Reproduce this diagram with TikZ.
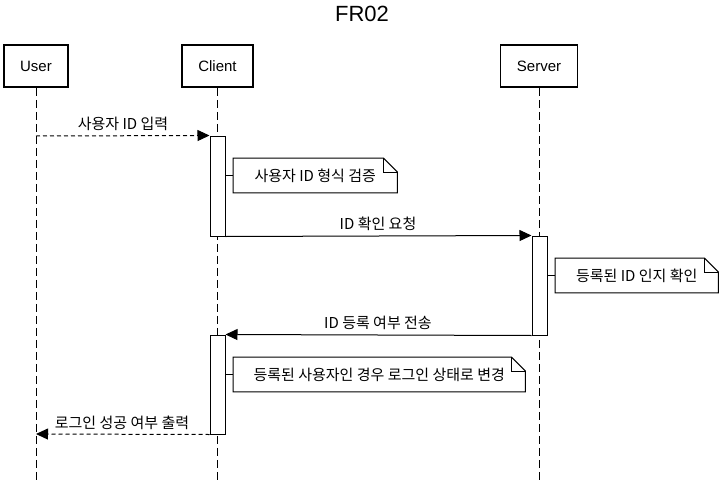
\documentclass[tikz,border=0pt]{standalone}
\usepackage{fontspec}
\setmainfont{Liberation Sans}
\newfontfamily\cjk{Noto Sans CJK KR}
\usetikzlibrary{arrows.meta}
\begin{document}
\begin{tikzpicture}[x=1pt,y=-1pt,
  actor/.style={draw, line width=1.8pt, minimum height=42pt, inner sep=0pt, font=\fontsize{15}{17}\selectfont},
  actbar/.style={draw, fill=white, line width=1pt, minimum width=15pt, inner sep=0pt},
  lifeline/.style={line width=1pt, dash pattern=on 8pt off 4pt},
  msg/.style={line width=1pt, -{Triangle[length=12pt,width=11pt]}},
  reply/.style={msg, dash pattern=on 4pt off 3pt},
  notebox/.style={minimum height=34.5pt, inner sep=0pt, anchor=west, font=\fontsize{15}{17}\selectfont\cjk},
  notedraw/.style={line width=1pt},
  lbl/.style={font=\fontsize{15}{17}\selectfont\cjk, inner sep=0pt}
]
\useasboundingbox (0,0) rectangle (724,482);

\node[font=\fontsize{22}{24}\selectfont, inner sep=0pt] (title) at (362,14) {FR02};

\node[actor, minimum width=64pt] (user) at (36,66) {User};
\node[actor, minimum width=71pt] (client) at (217.5,66) {Client};
\node[actor, minimum width=77pt] (server) at (539,66) {Server};

\coordinate (userend) at (36,482);
\coordinate (clientend) at (217.5,482);
\coordinate (serverend) at (539,482);
\draw[lifeline] (user.south) -- (userend);
\draw[lifeline] (client.south) -- (clientend);
\draw[lifeline] (server.south) -- (serverend);

% activations
\node[actbar, minimum height=100pt] (ca1) at (217.5,186) {};
\node[actbar, minimum height=99pt] (sa1) at (539.5,285.5) {};
\node[actbar, minimum height=99pt] (ca2) at (217.5,384.5) {};

% message 1
\coordinate (u1) at (36,136);
\draw[reply] (u1) -- (ca1.north west);
\node[lbl] (l1) at (123,124) {사용자 ID 입력};

% note 1
\node[notebox, minimum width=164pt] (n1) at (233,175.5) {사용자 ID 형식 검증};
\draw[notedraw] (n1.north west) -- ([xshift=-14pt]n1.north east) -- ([yshift=-14pt]n1.north east) -- (n1.south east) -- (n1.south west) -- cycle;
\draw[notedraw] ([xshift=-14pt]n1.north east) -- ([xshift=-14pt,yshift=-14pt]n1.north east) -- ([yshift=-14pt]n1.north east);
\draw[notedraw] (n1.west -| ca1.east) -- (n1.west);

% message 2
\draw[msg] (ca1.south east) -- (sa1.north west);
\node[lbl] (l2) at (378,224) {ID 확인 요청};

% note 2
\node[notebox, minimum width=163pt] (n2) at (555,275.5) {등록된 ID 인지 확인};
\draw[notedraw] (n2.north west) -- ([xshift=-14pt]n2.north east) -- ([yshift=-14pt]n2.north east) -- (n2.south east) -- (n2.south west) -- cycle;
\draw[notedraw] ([xshift=-14pt]n2.north east) -- ([xshift=-14pt,yshift=-14pt]n2.north east) -- ([yshift=-14pt]n2.north east);
\draw[notedraw] (n2.west -| sa1.east) -- (n2.west);

% message 3
\draw[msg] (sa1.south west) -- (ca2.north east);
\node[lbl] (l3) at (378,323) {ID 등록 여부 전송};

% note 3
\node[notebox, minimum width=292pt] (n3) at (233,374.5) {등록된 사용자인 경우 로그인 상태로 변경};
\draw[notedraw] (n3.north west) -- ([xshift=-14pt]n3.north east) -- ([yshift=-14pt]n3.north east) -- (n3.south east) -- (n3.south west) -- cycle;
\draw[notedraw] ([xshift=-14pt]n3.north east) -- ([xshift=-14pt,yshift=-14pt]n3.north east) -- ([yshift=-14pt]n3.north east);
\draw[notedraw] (n3.west -| ca2.east) -- (n3.west);

% message 4
\coordinate (u4) at (36,434);
\draw[reply] (ca2.south west) -- (u4);
\node[lbl] (l4) at (122,423) {로그인 성공 여부 출력};
\end{tikzpicture}
\end{document}
